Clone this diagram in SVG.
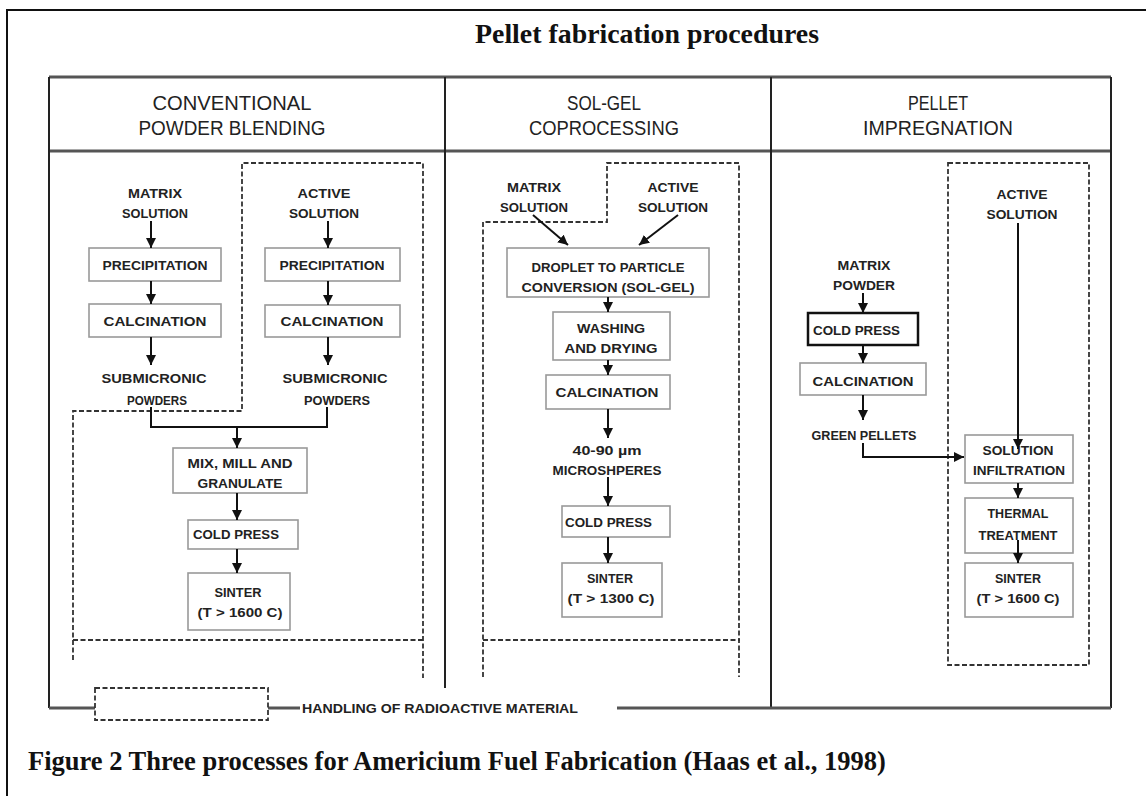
<svg xmlns="http://www.w3.org/2000/svg" width="1146" height="796" viewBox="0 0 1146 796">
<defs>
<marker id="ah" viewBox="0 0 10 10" refX="10" refY="5" markerWidth="10" markerHeight="10" markerUnits="userSpaceOnUse" orient="auto"><path d="M0,0 L10,5 L0,10 z" fill="#111"/></marker>
</defs>
<style>
.frame{fill:none;stroke:#111;stroke-width:2}
.tline{fill:none;stroke:#555;stroke-width:3}
.vline{fill:none;stroke:#222;stroke-width:2}
.dash{fill:none;stroke:#333;stroke-width:1.8;stroke-dasharray:5 2.5}
.box{fill:#fff;stroke:#999;stroke-width:1.6}
.boxb{fill:#fff;stroke:#111;stroke-width:2.5}
.lbl{font-family:"Liberation Sans",Arial,sans-serif;font-weight:bold;font-size:13.5px;fill:#222;text-anchor:middle}
.lft{text-anchor:start}
.hdr{font-family:"Liberation Sans",Arial,sans-serif;font-size:20px;fill:#222;text-anchor:middle}
.title{font-family:"Liberation Serif","Times New Roman",serif;font-weight:bold;font-size:27.5px;fill:#111}
.cap{font-family:"Liberation Serif","Times New Roman",serif;font-weight:bold;font-size:26.5px;fill:#111}
.conn{fill:none;stroke:#111;stroke-width:2}
.arr{marker-end:url(#ah)}
</style>
<rect width="1146" height="796" fill="#fff"/>

<g id="frame">
<path class="frame" d="M7,796 V10 H1146"/>
<text class="title" x="475" y="43" textLength="344" lengthAdjust="spacingAndGlyphs">Pellet fabrication procedures</text>
</g>

<g id="table">
<path class="tline" d="M49,77 H1111 M49,151 H1111"/>
<path class="vline" d="M49,77 V708 M1111,77 V708 M445,77 V688 M771,77 V708"/>
<path class="tline" d="M49,708 H95 M268,708 H300 M617,708 H1111"/>
<text class="hdr" x="232" y="110" textLength="159" lengthAdjust="spacingAndGlyphs">CONVENTIONAL</text>
<text class="hdr" x="232" y="135" textLength="187" lengthAdjust="spacingAndGlyphs">POWDER BLENDING</text>
<text class="hdr" x="604" y="110" textLength="74" lengthAdjust="spacingAndGlyphs">SOL-GEL</text>
<text class="hdr" x="604" y="135" textLength="150" lengthAdjust="spacingAndGlyphs">COPROCESSING</text>
<text class="hdr" x="938" y="110" textLength="60" lengthAdjust="spacingAndGlyphs">PELLET</text>
<text class="hdr" x="938" y="135" textLength="150" lengthAdjust="spacingAndGlyphs">IMPREGNATION</text>
</g>

<g id="zones">
<path class="dash" d="M73,660 V411 H242 V163 H423 V678 M73,640 H423"/>
<path class="dash" d="M483,677 V222 H607 V163 H739 V677 M483,640 H740"/>
<rect class="dash" x="948" y="163" width="141" height="502"/>
</g>

<g id="legend">
<rect class="dash" x="95" y="688" width="173" height="32"/>
<text class="lbl lft" x="302" y="713" textLength="276" lengthAdjust="spacingAndGlyphs">HANDLING OF RADIOACTIVE MATERIAL</text>
</g>

<!-- Column 1 -->
<g id="c1-matrix-solution">
<text class="lbl" x="155" y="198" textLength="54" lengthAdjust="spacingAndGlyphs">MATRIX</text>
<text class="lbl" x="155" y="218" textLength="66" lengthAdjust="spacingAndGlyphs">SOLUTION</text>
</g>
<g id="c1-precipitation-m">
<rect class="box" x="89" y="248" width="132" height="33"/>
<text class="lbl" x="155" y="270" textLength="105" lengthAdjust="spacingAndGlyphs">PRECIPITATION</text>
</g>
<g id="c1-calcination-m">
<rect class="box" x="89" y="304" width="132" height="33"/>
<text class="lbl" x="155" y="326" textLength="103" lengthAdjust="spacingAndGlyphs">CALCINATION</text>
</g>
<g id="c1-powders-m">
<text class="lbl" x="154" y="383" textLength="105" lengthAdjust="spacingAndGlyphs">SUBMICRONIC</text>
<text class="lbl" x="157" y="405" textLength="60" lengthAdjust="spacingAndGlyphs">POWDERS</text>
</g>
<g id="c1-active-solution">
<text class="lbl" x="324" y="198" textLength="53" lengthAdjust="spacingAndGlyphs">ACTIVE</text>
<text class="lbl" x="324" y="218" textLength="70" lengthAdjust="spacingAndGlyphs">SOLUTION</text>
</g>
<g id="c1-precipitation-a">
<rect class="box" x="265" y="248" width="135" height="33"/>
<text class="lbl" x="332" y="270" textLength="105" lengthAdjust="spacingAndGlyphs">PRECIPITATION</text>
</g>
<g id="c1-calcination-a">
<rect class="box" x="265" y="305" width="135" height="32"/>
<text class="lbl" x="332" y="326" textLength="103" lengthAdjust="spacingAndGlyphs">CALCINATION</text>
</g>
<g id="c1-powders-a">
<text class="lbl" x="335" y="383" textLength="105" lengthAdjust="spacingAndGlyphs">SUBMICRONIC</text>
<text class="lbl" x="337" y="405" textLength="66" lengthAdjust="spacingAndGlyphs">POWDERS</text>
</g>
<g id="c1-mix">
<rect class="box" x="173" y="448" width="134" height="45"/>
<text class="lbl" x="240" y="468" textLength="105" lengthAdjust="spacingAndGlyphs">MIX, MILL AND</text>
<text class="lbl" x="240" y="488" textLength="85" lengthAdjust="spacingAndGlyphs">GRANULATE</text>
</g>
<g id="c1-coldpress">
<rect class="box" x="188" y="520" width="110" height="29"/>
<text class="lbl lft" x="193" y="539" textLength="86" lengthAdjust="spacingAndGlyphs">COLD PRESS</text>
</g>
<g id="c1-sinter">
<rect class="box" x="188" y="573" width="102" height="57"/>
<text class="lbl" x="238" y="597" textLength="47" lengthAdjust="spacingAndGlyphs">SINTER</text>
<text class="lbl" x="240" y="617" textLength="85" lengthAdjust="spacingAndGlyphs">(T &gt; 1600 C)</text>
</g>

<!-- Column 2 -->
<g id="c2-matrix-solution">
<text class="lbl" x="534" y="192" textLength="54" lengthAdjust="spacingAndGlyphs">MATRIX</text>
<text class="lbl" x="534" y="212" textLength="68" lengthAdjust="spacingAndGlyphs">SOLUTION</text>
</g>
<g id="c2-active-solution">
<text class="lbl" x="673" y="192" textLength="51" lengthAdjust="spacingAndGlyphs">ACTIVE</text>
<text class="lbl" x="673" y="212" textLength="70" lengthAdjust="spacingAndGlyphs">SOLUTION</text>
</g>
<g id="c2-droplet">
<rect class="box" x="507" y="248" width="202" height="49"/>
<text class="lbl" x="608" y="272" textLength="153" lengthAdjust="spacingAndGlyphs">DROPLET TO PARTICLE</text>
<text class="lbl" x="608" y="292" textLength="173" lengthAdjust="spacingAndGlyphs">CONVERSION (SOL-GEL)</text>
</g>
<g id="c2-washing">
<rect class="box" x="553" y="312" width="117" height="48"/>
<text class="lbl" x="611" y="333" textLength="68" lengthAdjust="spacingAndGlyphs">WASHING</text>
<text class="lbl" x="611" y="353" textLength="93" lengthAdjust="spacingAndGlyphs">AND DRYING</text>
</g>
<g id="c2-calcination">
<rect class="box" x="546" y="375" width="124" height="34"/>
<text class="lbl" x="607" y="397" textLength="103" lengthAdjust="spacingAndGlyphs">CALCINATION</text>
</g>
<g id="c2-microspheres">
<text class="lbl" x="607" y="455" textLength="69" lengthAdjust="spacingAndGlyphs">40-90 µm</text>
<text class="lbl" x="607" y="475" textLength="109" lengthAdjust="spacingAndGlyphs">MICROSHPERES</text>
</g>
<g id="c2-coldpress">
<rect class="box" x="562" y="506" width="108" height="31"/>
<text class="lbl lft" x="565" y="527" textLength="87" lengthAdjust="spacingAndGlyphs">COLD PRESS</text>
</g>
<g id="c2-sinter">
<rect class="box" x="562" y="563" width="100" height="54"/>
<text class="lbl" x="610" y="583" textLength="46" lengthAdjust="spacingAndGlyphs">SINTER</text>
<text class="lbl" x="611" y="603" textLength="87" lengthAdjust="spacingAndGlyphs">(T &gt; 1300 C)</text>
</g>

<!-- Column 3 -->
<g id="c3-active-solution">
<text class="lbl" x="1022" y="199" textLength="51" lengthAdjust="spacingAndGlyphs">ACTIVE</text>
<text class="lbl" x="1022" y="219" textLength="71" lengthAdjust="spacingAndGlyphs">SOLUTION</text>
</g>
<g id="c3-matrix-powder">
<text class="lbl" x="864" y="270" textLength="53" lengthAdjust="spacingAndGlyphs">MATRIX</text>
<text class="lbl" x="864" y="290" textLength="62" lengthAdjust="spacingAndGlyphs">POWDER</text>
</g>
<g id="c3-coldpress">
<rect class="boxb" x="808" y="313" width="110" height="32"/>
<text class="lbl lft" x="813" y="335" textLength="87" lengthAdjust="spacingAndGlyphs">COLD PRESS</text>
</g>
<g id="c3-calcination">
<rect class="box" x="800" y="363" width="126" height="32"/>
<text class="lbl" x="863" y="386" textLength="101" lengthAdjust="spacingAndGlyphs">CALCINATION</text>
</g>
<g id="c3-green-pellets">
<text class="lbl" x="864" y="440" textLength="105" lengthAdjust="spacingAndGlyphs">GREEN PELLETS</text>
</g>
<g id="c3-infiltration">
<rect class="box" x="965" y="435" width="108" height="48"/>
<text class="lbl" x="1018" y="455" textLength="71" lengthAdjust="spacingAndGlyphs">SOLUTION</text>
<text class="lbl" x="1019" y="475" textLength="92" lengthAdjust="spacingAndGlyphs">INFILTRATION</text>
</g>
<g id="c3-thermal">
<rect class="box" x="965" y="498" width="108" height="55"/>
<text class="lbl" x="1018" y="518" textLength="61" lengthAdjust="spacingAndGlyphs">THERMAL</text>
<text class="lbl" x="1018" y="540" textLength="79" lengthAdjust="spacingAndGlyphs">TREATMENT</text>
</g>
<g id="c3-sinter">
<rect class="box" x="965" y="563" width="108" height="54"/>
<text class="lbl" x="1018" y="583" textLength="46" lengthAdjust="spacingAndGlyphs">SINTER</text>
<text class="lbl" x="1018" y="603" textLength="83" lengthAdjust="spacingAndGlyphs">(T &gt; 1600 C)</text>
</g>

<g id="connectors">
<path class="conn arr" d="M151,221 V248"/>
<path class="conn arr" d="M151,281 V304"/>
<path class="conn arr" d="M151,337 V365"/>
<path class="conn arr" d="M328,221 V248"/>
<path class="conn arr" d="M328,281 V305"/>
<path class="conn arr" d="M328,337 V365"/>
<path class="conn" d="M151,407 V427 H327 V407"/>
<path class="conn arr" d="M237,427 V448"/>
<path class="conn arr" d="M237,493 V520"/>
<path class="conn arr" d="M237,549 V573"/>
<path class="conn arr" d="M533,215 L568,245"/>
<path class="conn arr" d="M678,215 L639,245"/>
<path class="conn arr" d="M608,297 V312"/>
<path class="conn arr" d="M608,360 V375"/>
<path class="conn arr" d="M608,409 V438"/>
<path class="conn arr" d="M608,477 V506"/>
<path class="conn arr" d="M608,537 V563"/>
<path class="conn arr" d="M863,293 V313"/>
<path class="conn arr" d="M863,345 V363"/>
<path class="conn arr" d="M863,395 V420"/>
<path class="conn arr" d="M863,443 V457 H964"/>
<path class="conn arr" d="M1018,223 V449"/>
<path class="conn arr" d="M1018,483 V498"/>
<path class="conn arr" d="M1018,540 V563"/>
</g>

<g id="caption">
<text class="cap" x="28" y="770">Figure 2 Three processes for Americium Fuel Fabrication (Haas et al., 1998)</text>
</g>
</svg>
